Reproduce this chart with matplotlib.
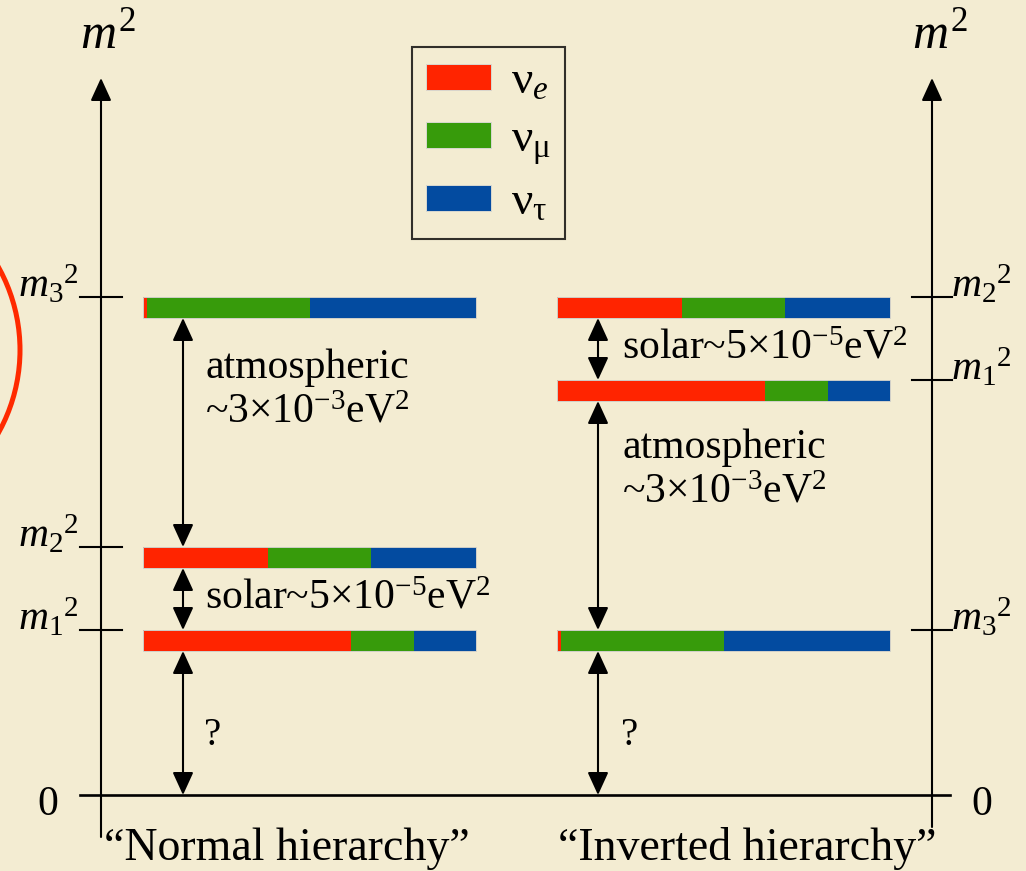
import matplotlib
matplotlib.use("Agg")
import matplotlib.pyplot as plt
from matplotlib.patches import Patch, Circle

plt.rcParams['font.family'] = ['Liberation Serif', 'DejaVu Serif']
plt.rcParams['mathtext.fontset'] = 'custom'
plt.rcParams['mathtext.rm'] = 'Liberation Serif'
plt.rcParams['mathtext.it'] = 'Liberation Serif:italic'

# schematic m^2 levels (arbitrary units, zero line = 0)
mass_states = ['1', '2', '3']
levels_normal = [1.65, 2.48, 4.98]
levels_inverted = [4.15, 4.98, 1.65]

# flavour content of each mass state (m1, m2, m3)
frac_e = [0.625, 0.375, 0.012]
frac_mu = [0.19, 0.31, 0.488]
frac_tau = [0.185, 0.315, 0.50]

flavour_labels = ['ν$_e$', 'ν$_{\\mathrm{μ}}$', 'ν$_{\\mathrm{τ}}$']
flavour_colors = ['#ff2400', '#379b0b', '#034ba0']

atm_text = 'atmospheric\n~3$\\times$10$^{-3}$eV$^2$'
solar_text = 'solar~5$\\times$10$^{-5}$eV$^2$'

BG = '#f3ecd2'
fig = plt.figure(figsize=(10.26, 8.71), dpi=100, facecolor=BG)
ax = fig.add_axes([0, 0, 1, 1])
ax.set_facecolor(BG)
ax.set_xlim(-1.01, 9.25)
ax.set_ylim(-0.76, 7.95)
ax.axis('off')

bar_h = 0.21
bar_w = 3.33
x_normal, x_inverted = 0.42, 4.56
axis_left, axis_right = 0.0, 8.31


def draw_levels(x0, levels):
    for i, lev in enumerate(levels):
        left = x0
        for frac, col in zip([frac_e[i], frac_mu[i], frac_tau[i]], flavour_colors):
            ax.barh(lev - bar_h / 2, frac * bar_w, left=left, height=bar_h,
                    color=col, linewidth=0, zorder=3)
            left += frac * bar_w
        ax.barh(lev - bar_h / 2, bar_w, left=x0, height=bar_h, fill=False,
                edgecolor='#cfcfc8', linewidth=0.7, zorder=4)


def double_arrow(x, y0, y1):
    ax.annotate('', xy=(x, y1), xytext=(x, y0),
                arrowprops=dict(arrowstyle='<|-|>,head_length=0.7,head_width=0.32',
                                mutation_scale=20, color='black', lw=1.5,
                                shrinkA=0, shrinkB=0), zorder=5)


def vertical_axis(x, ybot):
    ax.annotate('', xy=(x, 7.17), xytext=(x, ybot),
                arrowprops=dict(arrowstyle='-|>,head_length=0.7,head_width=0.32',
                                mutation_scale=20, color='black', lw=1.5,
                                shrinkA=0, shrinkB=0), zorder=2)


draw_levels(x_normal, levels_normal)
draw_levels(x_inverted, levels_inverted)

# axes
vertical_axis(axis_left, -0.42)
vertical_axis(axis_right, -0.32)
ax.plot([-0.21, 8.49], [0, 0], color='black', lw=1.9, zorder=2)

tick_fs = 30
for s, lev in zip(mass_states, levels_normal):
    ax.plot([-0.21, 0.21], [lev, lev], color='black', lw=1.5, zorder=2)
    ax.text(-0.22, lev, '$m_%s{}^2$' % s, fontsize=tick_fs, ha='right', va='baseline')
for s, lev in zip(mass_states, levels_inverted):
    ax.plot([8.11, 8.51], [lev, lev], color='black', lw=1.5, zorder=2)
    ax.text(8.50, lev, '$m_%s{}^2$' % s, fontsize=tick_fs, ha='left', va='baseline')

ax.text(0.07, 7.47, '$m^2$', fontsize=36, ha='center', va='baseline')
ax.text(8.39, 7.47, '$m^2$', fontsize=36, ha='center', va='baseline')
ax.text(-0.53, -0.10, '0', fontsize=30, ha='center', va='center')
ax.text(8.81, -0.10, '0', fontsize=30, ha='center', va='center')

# normal hierarchy splittings
xa_n = 0.82
double_arrow(xa_n, levels_normal[2] - bar_h, levels_normal[1])
double_arrow(xa_n, levels_normal[1] - bar_h, levels_normal[0])
double_arrow(xa_n, levels_normal[0] - bar_h, 0)
ax.text(1.04, 3.73, atm_text, fontsize=30, ha='left', va='baseline', linespacing=1.2)
ax.text(1.04, 1.87, solar_text, fontsize=30, ha='left', va='baseline')
ax.text(1.12, 0.60, '?', fontsize=28, ha='center', va='center')

# inverted hierarchy splittings
xa_i = 4.97
double_arrow(xa_i, levels_inverted[1] - bar_h, levels_inverted[0])
double_arrow(xa_i, levels_inverted[0] - bar_h, levels_inverted[2])
double_arrow(xa_i, levels_inverted[2] - bar_h, 0)
ax.text(5.21, 2.93, atm_text, fontsize=30, ha='left', va='baseline', linespacing=1.2)
ax.text(5.21, 4.37, solar_text, fontsize=30, ha='left', va='baseline')
ax.text(5.29, 0.60, '?', fontsize=28, ha='center', va='center')

ax.text(1.86, -0.65, '\u201cNormal hierarchy\u201d', fontsize=33, ha='center', va='baseline')
ax.text(6.46, -0.65, '\u201cInverted hierarchy\u201d', fontsize=33, ha='center', va='baseline')

# flavour legend
handles = [Patch(facecolor=c, edgecolor='#d8d8d0', linewidth=0.7) for c in flavour_colors]
leg = ax.legend(handles, flavour_labels, loc='upper left', bbox_to_anchor=(3.11, 7.48),
                bbox_transform=ax.transData, borderaxespad=0, fontsize=34,
                handlelength=1.38, handleheight=0.47, handletextpad=0.42,
                labelspacing=0.33, borderpad=0.3, fancybox=False)
leg.get_frame().set_facecolor('none')
leg.get_frame().set_edgecolor('black')
leg.get_frame().set_linewidth(1.5)

# red highlight ring at the left edge
ax.add_patch(Circle((-2.51, 4.45), 1.70, fill=False, edgecolor='#ff2a00', lw=3.6,
                    zorder=6, clip_on=True))

fig.savefig('out.png', dpi=100, facecolor=BG)
